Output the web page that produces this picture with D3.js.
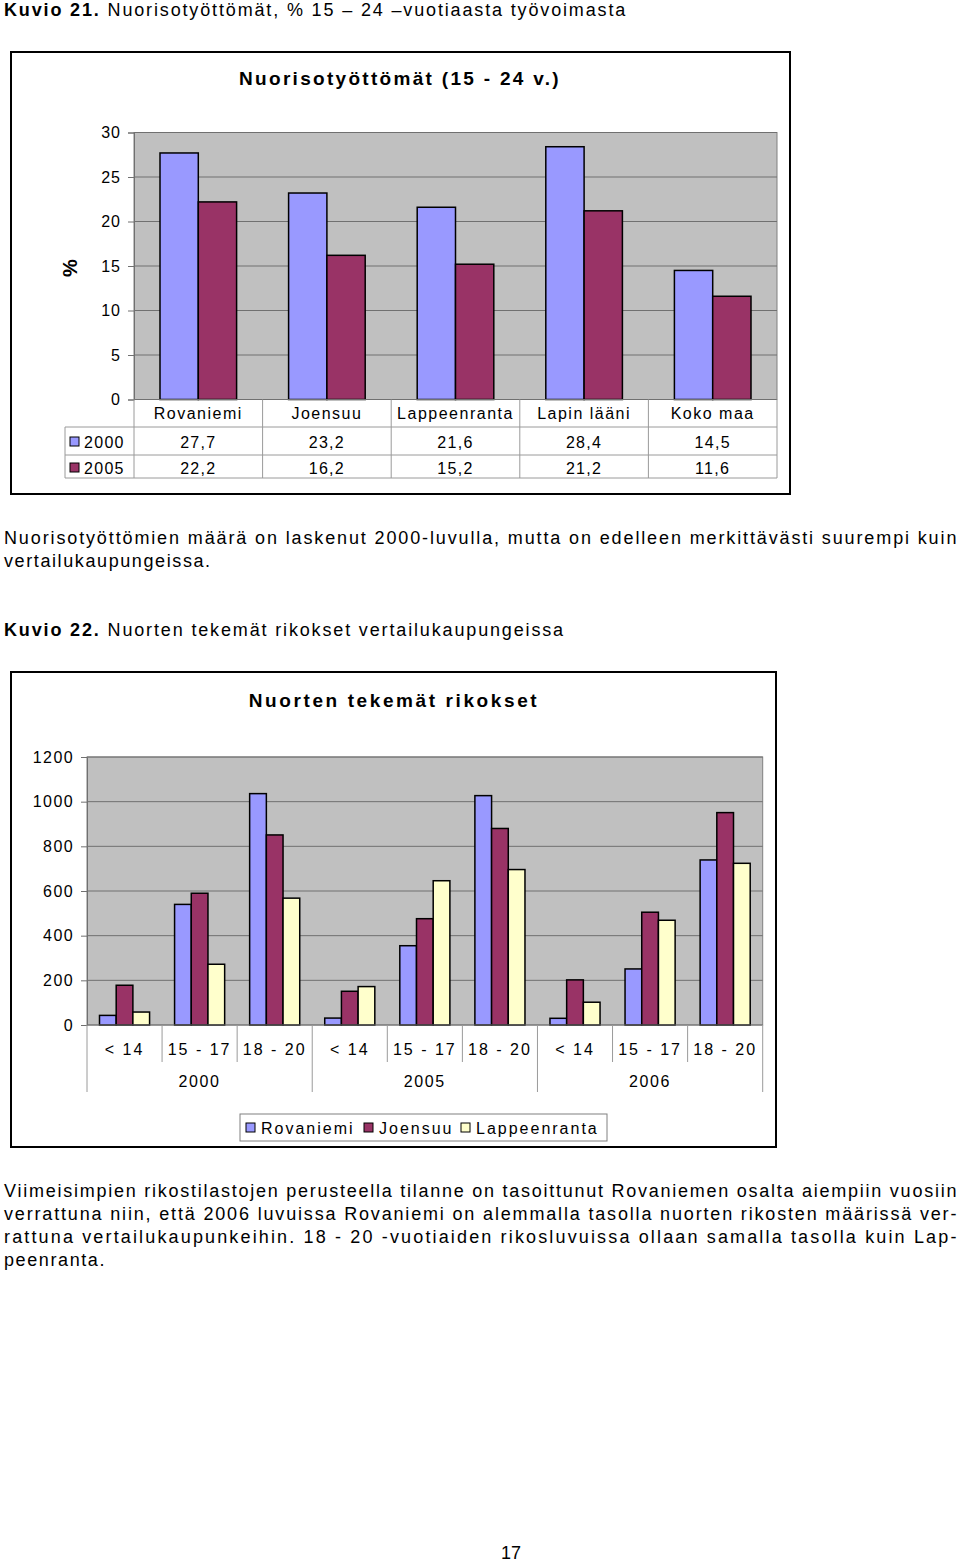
<!DOCTYPE html>
<html><head><meta charset="utf-8">
<script src="https://cdn.jsdelivr.net/npm/d3@7"></script>
<style>
body{margin:0;background:#fff;}
text{font-family:"Liberation Sans",Arial,sans-serif;fill:#000;}
</style></head>
<body>
<svg id="page" width="960" height="1564"></svg>
<script>
// ---------- DATA ----------
const cities1 = ["Rovaniemi","Joensuu","Lappeenranta","Lapin lääni","Koko maa"];
const years1 = ["2000","2005"];
const unemp2000 = [27.7,23.2,21.6,28.4,14.5];
const unemp2005 = [22.2,16.2,15.2,21.2,11.6];
const yTicks1 = [0,5,10,15,20,25,30];

const crimeYears = ["2000","2005","2006"];
const ageGroups = ["< 14","15 - 17","18 - 20"];
const crimeCities = ["Rovaniemi","Joensuu","Lappeenranta"];
const crimeRovaniemi   = [43,540,1036, 31,355,1027, 30,251,739];
const crimeJoensuu     = [178,590,851, 151,476,880, 202,505,951];
const crimeLappeenranta= [58,272,568, 172,646,696, 102,469,724];
const yTicks2 = [0,200,400,600,800,1000,1200];

const colors = ["#9999FF","#993366","#FFFFCC"];

// ---------- PAGE ----------
const svg = d3.select("#page");
svg.append("rect").attr("width",960).attr("height",1564).attr("fill","#fff");
const fmt = v => String(v).replace(".",",");

function heading(y, bold, rest){
  const t = svg.append("text").attr("x",4).attr("y",y).attr("dy","0.35em")
    .style("font-size","18px").style("letter-spacing","1.85px");
  t.append("tspan").style("font-weight","bold").text(bold);
  t.append("tspan").text(rest);
}
function para(y, str, justify){
  const t = svg.append("text").attr("x",4).attr("y",y).attr("dy","0.35em")
    .style("font-size","18px").style("letter-spacing","1.6px").text(str);
  if(justify) t.attr("textLength",954).attr("lengthAdjust","spacing");
}

heading(10,"Kuvio 21.", " Nuorisotyöttömät, % 15 – 24 –vuotiaasta työvoimasta");

// ---------- CHART 1 ----------
svg.append("rect").attr("x",11).attr("y",52).attr("width",779).attr("height",442)
  .attr("fill","#fff").attr("stroke","#000").attr("stroke-width",2);
svg.append("text").attr("x",400).attr("y",78).attr("dy","0.35em").attr("text-anchor","middle")
  .style("font-size","19px").style("font-weight","bold").style("letter-spacing","2.3px")
  .text("Nuorisotyöttömät (15 - 24 v.)");

const p1 = {l:134, r:777, t:132.5, b:399.5};
const y1 = d3.scaleLinear().domain([0,30]).range([p1.b,p1.t]);
const x1 = d3.scaleBand().domain(cities1).range([p1.l,p1.r]);
const xs1 = d3.scaleBand().domain(years1).range([26, x1.bandwidth()-26]);

svg.append("rect").attr("x",p1.l).attr("y",p1.t).attr("width",p1.r-p1.l).attr("height",p1.b-p1.t)
  .attr("fill","#C0C0C0").attr("stroke","#808080");
const g1 = svg.append("g");
g1.selectAll("line.grid").data(yTicks1.filter(d=>d>0)).join("line")
  .attr("x1",p1.l).attr("x2",p1.r).attr("y1",d=>y1(d)).attr("y2",d=>y1(d))
  .attr("stroke","#707070").attr("stroke-width",1);
const ax1 = svg.append("g").attr("transform",`translate(${p1.l},0)`)
  .call(d3.axisLeft(y1).tickValues(yTicks1).tickFormat(d3.format("d")).tickSize(6).tickPadding(7));
ax1.select(".domain").attr("stroke","#707070");
ax1.selectAll(".tick line").attr("stroke","#707070");
ax1.selectAll("text").style("font-size","16px").style("font-family","Liberation Sans, Arial").style("letter-spacing","1px");
svg.append("text").attr("transform","translate(70,268) rotate(-90)").attr("text-anchor","middle")
  .attr("dy","0.35em").style("font-size","20px").style("font-weight","bold").text("%");

const series1 = [unemp2000, unemp2005];
series1.forEach((vals,si)=>{
  svg.append("g").selectAll("rect").data(vals).join("rect")
    .attr("x",(d,i)=>x1(cities1[i])+xs1(years1[si]))
    .attr("width",xs1.bandwidth())
    .attr("y",d=>y1(d)).attr("height",d=>y1(0)-y1(d))
    .attr("fill",colors[si]).attr("stroke","#000").attr("stroke-width",1.5);
});

// data table
const tb = {catY:413, r1:427, r2:455, r3:478, left:65};
const tl = svg.append("g").attr("stroke","#9a9a9a").attr("stroke-width",1);
tl.append("line").attr("x1",p1.l).attr("x2",p1.r).attr("y1",p1.b).attr("y2",p1.b).attr("stroke","#707070");
[tb.r1,tb.r2,tb.r3].forEach(y=>tl.append("line").attr("x1",tb.left).attr("x2",p1.r).attr("y1",y).attr("y2",y));
tl.append("line").attr("x1",tb.left).attr("x2",tb.left).attr("y1",tb.r1).attr("y2",tb.r3);
cities1.forEach(c=>tl.append("line").attr("x1",x1(c)).attr("x2",x1(c)).attr("y1",p1.b).attr("y2",tb.r3));
tl.append("line").attr("x1",p1.r).attr("x2",p1.r).attr("y1",p1.b).attr("y2",tb.r3);

svg.append("g").selectAll("text").data(cities1).join("text")
  .attr("x",d=>x1(d)+x1.bandwidth()/2).attr("y",tb.catY).attr("dy","0.35em")
  .attr("text-anchor","middle").style("font-size","16px").style("letter-spacing","1.5px").text(d=>d);
series1.forEach((vals,si)=>{
  const ry = si===0 ? 442 : 468;
  svg.append("rect").attr("x",70).attr("y",ry-5).attr("width",9).attr("height",9)
    .attr("fill",colors[si]).attr("stroke","#000").attr("stroke-width",1);
  svg.append("text").attr("x",84).attr("y",ry).attr("dy","0.35em")
    .style("font-size","16px").style("letter-spacing","1.3px").text(years1[si]);
  svg.append("g").selectAll("text").data(vals).join("text")
    .attr("x",(d,i)=>x1(cities1[i])+x1.bandwidth()/2).attr("y",ry).attr("dy","0.35em")
    .attr("text-anchor","middle").style("font-size","16px").style("letter-spacing","1.3px").text(d=>fmt(d.toFixed(1)));
});

para(538,"Nuorisotyöttömien määrä on laskenut 2000-luvulla, mutta on edelleen merkittävästi suurempi kuin",true);
para(561,"vertailukaupungeissa.",false);

heading(630,"Kuvio 22.", " Nuorten tekemät rikokset vertailukaupungeissa");

// ---------- CHART 2 ----------
svg.append("rect").attr("x",11).attr("y",672).attr("width",765).attr("height",475)
  .attr("fill","#fff").attr("stroke","#000").attr("stroke-width",2);
svg.append("text").attr("x",394).attr("y",700).attr("dy","0.35em").attr("text-anchor","middle")
  .style("font-size","19px").style("font-weight","bold").style("letter-spacing","2.6px")
  .text("Nuorten tekemät rikokset");

const p2 = {l:87, r:762.7, t:757, b:1025};
const subcats = [];
crimeYears.forEach(y=>ageGroups.forEach(a=>subcats.push(y+"|"+a)));
const y2 = d3.scaleLinear().domain([0,1200]).range([p2.b,p2.t]);
const x2 = d3.scaleBand().domain(subcats).range([p2.l,p2.r]);
const xs2 = d3.scaleBand().domain(crimeCities).range([12.5, x2.bandwidth()-12.5]);

svg.append("rect").attr("x",p2.l).attr("y",p2.t).attr("width",p2.r-p2.l).attr("height",p2.b-p2.t)
  .attr("fill","#C0C0C0").attr("stroke","#808080");
svg.append("g").selectAll("line").data(yTicks2.filter(d=>d>0)).join("line")
  .attr("x1",p2.l).attr("x2",p2.r).attr("y1",d=>y2(d)).attr("y2",d=>y2(d))
  .attr("stroke","#707070");
const ax2 = svg.append("g").attr("transform",`translate(${p2.l},0)`)
  .call(d3.axisLeft(y2).tickValues(yTicks2).tickFormat(d3.format("d")).tickSize(6).tickPadding(7));
ax2.select(".domain").attr("stroke","#707070");
ax2.selectAll(".tick line").attr("stroke","#707070");
ax2.selectAll("text").style("font-size","16px").style("font-family","Liberation Sans, Arial").style("letter-spacing","1.4px");

const series2 = [crimeRovaniemi, crimeJoensuu, crimeLappeenranta];
series2.forEach((vals,si)=>{
  svg.append("g").selectAll("rect").data(vals).join("rect")
    .attr("x",(d,i)=>x2(subcats[i])+xs2(crimeCities[si]))
    .attr("width",xs2.bandwidth())
    .attr("y",d=>y2(d)).attr("height",d=>y2(0)-y2(d))
    .attr("fill",colors[si]).attr("stroke","#000").attr("stroke-width",1.5);
});

// x axis (two levels)
const xa = svg.append("g").attr("stroke","#9a9a9a");
xa.append("line").attr("x1",p2.l).attr("x2",p2.r).attr("y1",p2.b).attr("y2",p2.b).attr("stroke","#707070");
subcats.forEach((s,i)=>{
  xa.append("line").attr("x1",x2(s)).attr("x2",x2(s)).attr("y1",p2.b).attr("y2",i%3===0?1092:1062);
});
xa.append("line").attr("x1",p2.r).attr("x2",p2.r).attr("y1",p2.b).attr("y2",1092);
svg.append("g").selectAll("text").data(subcats).join("text")
  .attr("x",d=>x2(d)+x2.bandwidth()/2).attr("y",1049).attr("dy","0.35em")
  .attr("text-anchor","middle").style("font-size","16px").style("letter-spacing","2px")
  .text(d=>d.split("|")[1]);
svg.append("g").selectAll("text").data(crimeYears).join("text")
  .attr("x",(d,i)=>x2(subcats[i*3])+x2.bandwidth()*1.5).attr("y",1081).attr("dy","0.35em")
  .attr("text-anchor","middle").style("font-size","16px").style("letter-spacing","1.6px").text(d=>d);

// legend
svg.append("rect").attr("x",240).attr("y",1114).attr("width",367).attr("height",27)
  .attr("fill","#fff").attr("stroke","#808080");
const legX = [246,364,461];
crimeCities.forEach((c,i)=>{
  svg.append("rect").attr("x",legX[i]).attr("y",1123).attr("width",9).attr("height",9)
    .attr("fill",colors[i]).attr("stroke","#000");
  svg.append("text").attr("x",legX[i]+15).attr("y",1128).attr("dy","0.35em")
    .style("font-size","16px").style("letter-spacing","2px").text(c);
});

para(1191,"Viimeisimpien rikostilastojen perusteella tilanne on tasoittunut Rovaniemen osalta aiempiin vuosiin",true);
para(1214,"verrattuna niin, että 2006 luvuissa Rovaniemi on alemmalla tasolla nuorten rikosten määrissä ver-",true);
para(1237,"rattuna vertailukaupunkeihin. 18 - 20 -vuotiaiden rikosluvuissa ollaan samalla tasolla kuin Lap-",true);
para(1260,"peenranta.",false);

svg.append("text").attr("x",511).attr("y",1553).attr("dy","0.35em").attr("text-anchor","middle")
  .style("font-size","18px").text("17");
</script>
</body></html>
